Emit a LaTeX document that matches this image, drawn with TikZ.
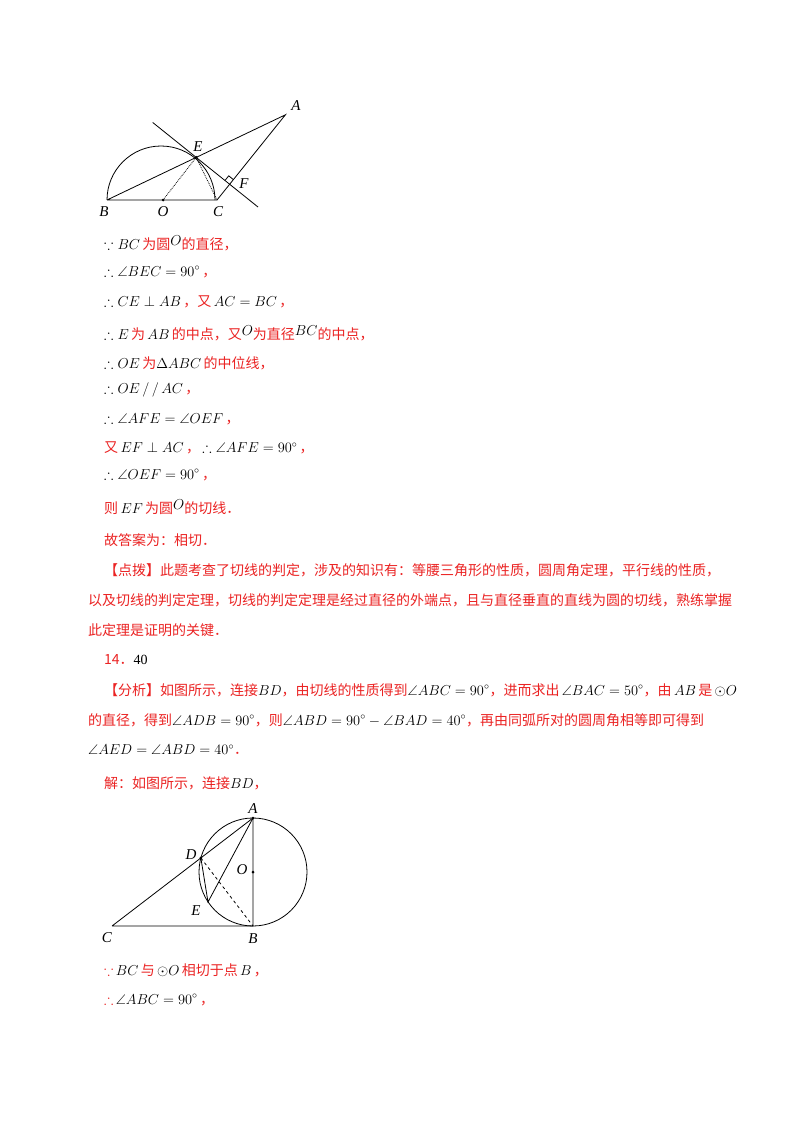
\documentclass[tikz,border=0pt]{standalone}
\usetikzlibrary{calc}
\usepackage{amssymb}
\usepackage{fontspec}
\setmainfont{Liberation Serif}
\newfontfamily\cjk{Noto Sans CJK SC}
\definecolor{xred}{RGB}{235,35,35}
\newcommand{\R}[1]{{\color{xred}\cjk #1}}
\newcommand{\up}[1]{\raisebox{4pt}{$#1$}}
\tikzset{txt/.style={anchor=west,inner sep=0pt,font=\fontsize{14}{16}\selectfont},
 lab/.style={font=\fontsize{15}{17}\selectfont\itshape,inner sep=0pt},
 geo/.style={line width=0.8pt},
 dotp/.style={circle,fill=black,inner sep=0pt,minimum size=3pt}}
\begin{document}
\begin{tikzpicture}[x=1pt,y=-1pt]
\useasboundingbox[fill=white] (0,0) rectangle (800,1132);
% figure 1
\coordinate (B) at (107,200); \coordinate (O) at (163,200); \coordinate (C) at (217,200);
\coordinate (E) at (196.2,157.4);
\coordinate (A) at ($(B)!2!(E)$);
\coordinate (F) at ($(C)!(E)!(A)$);
\draw[geo] (B) arc[start angle=180,end angle=0,radius=54pt];
\draw[geo] (B) -- (C) -- (A) -- (B);
\draw[geo] ($(E)!-1.3!(F)$) -- ($(E)!1.85!(F)$);
\draw[geo,densely dotted] (O) -- (E) -- (C);
\draw[geo] ($(F)!6pt!(A)$) -- ($($(F)!6pt!(A)$)+($(F)!6pt!(E)$)-(F)$) -- ($(F)!6pt!(E)$);
\node[dotp] (o1) at (O) {}; \node[dotp] (e1) at (E) {};
\node[lab] at (104,212) {B}; \node[lab] at (163,212) {O}; \node[lab] at (218,212) {C};
\node[lab] at (198,147) {E}; \node[lab] at (244,184) {F}; \node[lab] at (296,106) {A};
% text
\node[txt] at (104,243) {$\because BC$\,\R{为圆}\up{O}\R{的直径，}};
\node[txt] at (104,272) {$\therefore\angle BEC=90^\circ$\,\R{，}};
\node[txt] at (104,302) {$\therefore CE\perp AB$\,\R{，又}\,$AC=BC$\,\R{，}};
\node[txt] at (104,333) {$\therefore E$\,\R{为}\,$AB$\,\R{的中点，又}\up{O}\R{为直径}\up{BC}\R{的中点，}};
\node[txt] at (104,363) {$\therefore OE$\,\R{为}$\Delta ABC$\,\R{的中位线，}};
\node[txt] at (104,390) {$\therefore OE\,/\,/\,AC$\,\R{，}};
\node[txt] at (104,419) {$\therefore\angle AFE=\angle OEF$\,\R{，}};
\node[txt] at (104,448) {\R{又}\,$EF\perp AC$\,\R{，}\,$\therefore\angle AFE=90^\circ$\,\R{，}};
\node[txt] at (104,475) {$\therefore\angle OEF=90^\circ$\,\R{，}};
\node[txt] at (104,507) {\R{则}\,$EF$\,\R{为圆}\up{O}\R{的切线．}};
\node[txt] at (104,540) {\R{故答案为：相切．}};
\node[txt] at (104,570) {\R{【点拨】此题考查了切线的判定，涉及的知识有：等腰三角形的性质，圆周角定理，平行线的性质，}};
\node[txt] at (88,600) {\R{以及切线的判定定理，切线的判定定理是经过直径的外端点，且与直径垂直的直线为圆的切线，熟练掌握}};
\node[txt] at (88,630) {\R{此定理是证明的关键．}};
\node[txt] at (104,660) {\R{14．}40};
\node[txt] at (104,690) {\R{【分析】如图所示，连接}$BD$\R{，由切线的性质得到}$\angle ABC=90^\circ$\R{，进而求出}\,$\angle BAC=50^\circ$\R{，由}\,$AB$\,\R{是}\,$\odot O$};
\node[txt] at (88,720) {\R{的直径，得到}$\angle ADB=90^\circ$\R{，则}$\angle ABD=90^\circ-\angle BAD=40^\circ$\R{，再由同弧所对的圆周角相等即可得到}};
\node[txt] at (88,750) {$\angle AED=\angle ABD=40^\circ$\R{．}};
\node[txt] at (104,783) {\R{解：如图所示，连接}$BD$\R{，}};
% figure 2
\coordinate (A2) at (253,818); \coordinate (B2) at (253,926); \coordinate (O2) at (253,872);
\coordinate (C2) at (112,926); \coordinate (E2) at (208,902);
\coordinate (D2) at ($(C2)!(B2)!(A2)$);
\draw[geo] (O2) circle[radius=54pt];
\draw[geo] (C2) -- (B2) -- (A2) -- (C2);
\draw[geo] (A2) -- (E2) -- (D2);
\draw[geo,dashed] (D2) -- (B2);
\node[dotp] at (O2) {}; \node[dotp] at (D2) {}; \node[dotp] at (A2) {};
\node[lab] at (253,809) {A}; \node[lab] at (191,855) {D}; \node[lab] at (242,870) {O};
\node[lab] at (196,911) {E}; \node[lab] at (107,938) {C}; \node[lab] at (253,939) {B};
\node[txt] at (104,970) {\R{$\because$}\,$BC$\,\R{与}\,$\odot O$\,\R{相切于点}\,$B$\,\R{，}};
\node[txt] at (104,1000) {\R{$\therefore$}\,$\angle ABC=90^\circ$\,\R{，}};
\end{tikzpicture}
\end{document}
